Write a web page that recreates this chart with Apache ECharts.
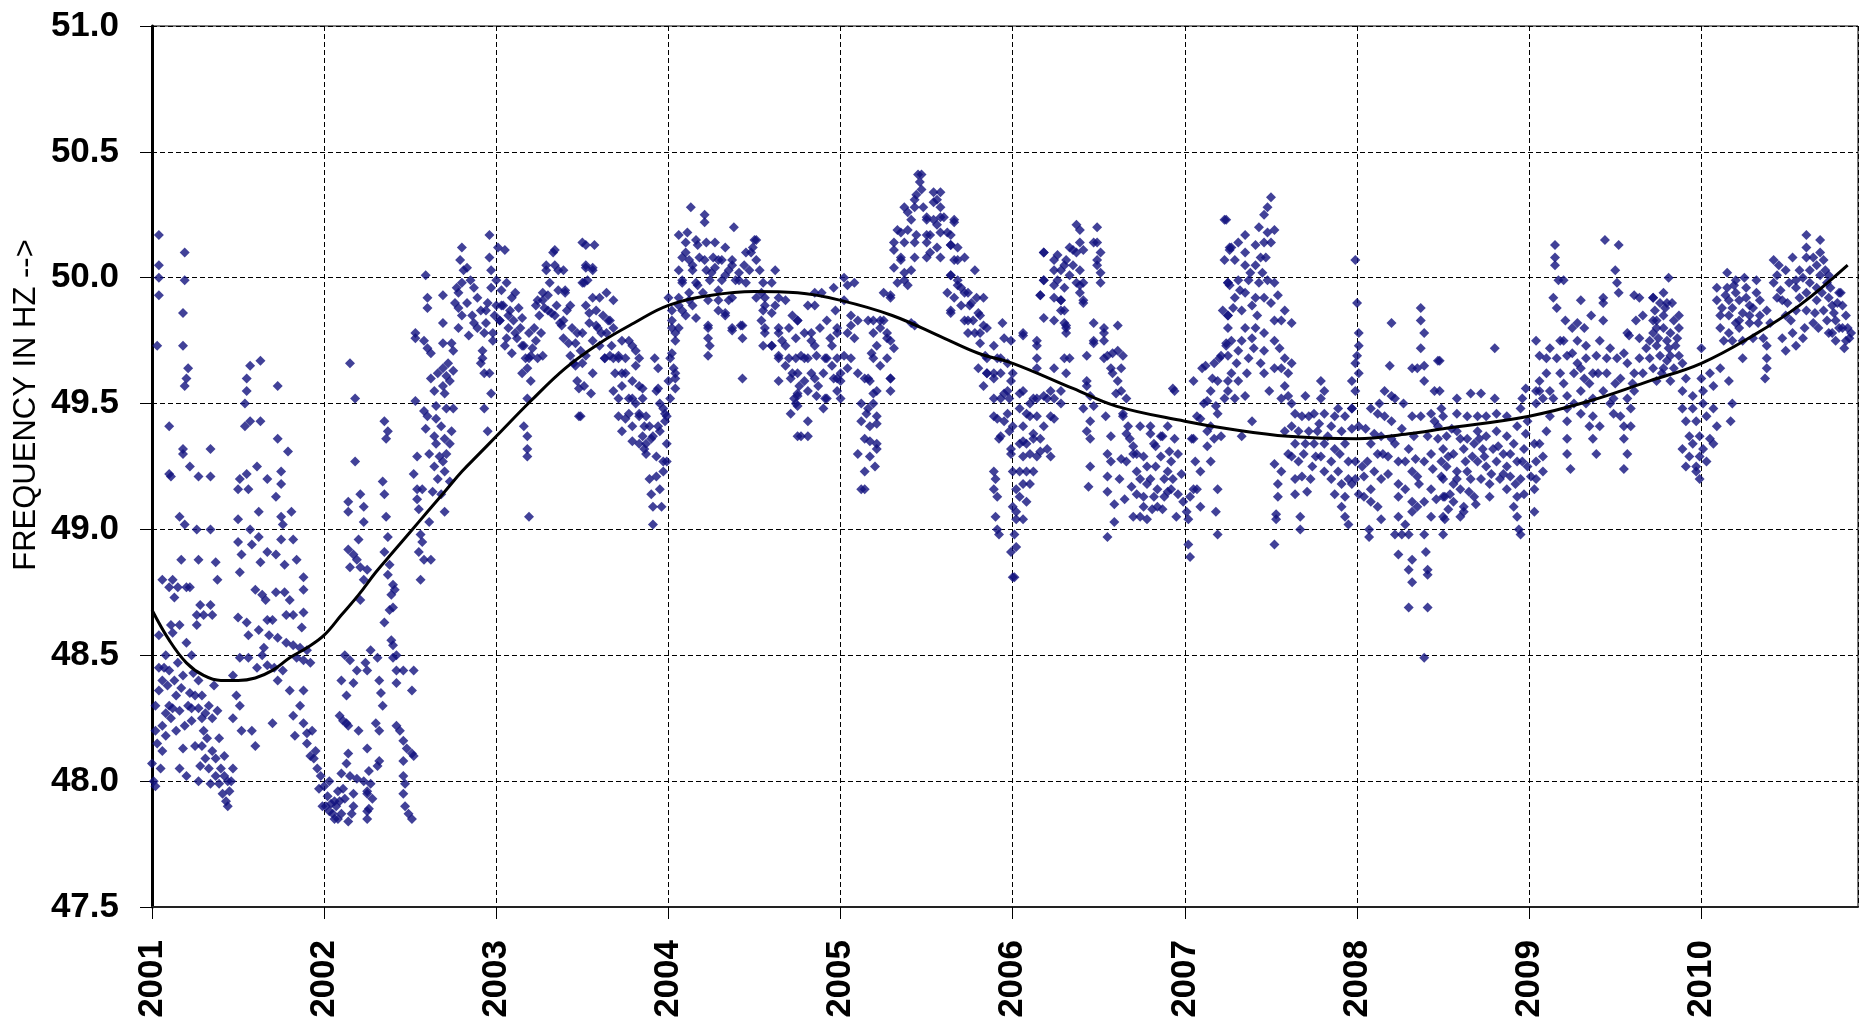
<!DOCTYPE html>
<html>
<head>
<meta charset="utf-8">
<script src="https://cdn.jsdelivr.net/npm/echarts@6/dist/echarts.min.js"></script>
<style>
  html, body { margin: 0; padding: 0; background: #fff; overflow: hidden; }
  #chart { width: 1864px; height: 1026px; }
</style>
</head>
<body>
<div id="chart"></div>
<script>
// daily frequency readings (year, Hz), grouped by year
const freq2001 = [
  [2001.04,50.17],[2001.04,50.05],[2001.04,50.0],[2001.04,49.93],[2001.03,49.73],
  [2001.19,50.1],[2001.19,49.99],[2001.18,49.86],[2001.18,49.73],[2001.21,49.64],[2001.2,49.6],[2001.19,49.57],
  [2001.1,49.41],[2001.18,49.32],[2001.18,49.3],[2001.34,49.32],[2001.22,49.25],[2001.1,49.22],[2001.11,49.21],[2001.27,49.21],[2001.34,49.21],
  [2001.16,49.05],[2001.19,49.02],[2001.26,49.0],[2001.34,49.0],[2001.27,48.88],[2001.17,48.88],[2001.37,48.87],
  [2001.06,48.8],[2001.12,48.8],[2001.15,48.77],[2001.1,48.77],[2001.13,48.73],[2001.2,48.77],[2001.22,48.77],[2001.38,48.8],
  [2001.28,48.7],[2001.34,48.7],[2001.26,48.66],[2001.3,48.66],[2001.35,48.66],[2001.11,48.62],[2001.16,48.62],[2001.26,48.62],[2001.12,48.59],[2001.04,48.58],
  [2001.01,48.0],[2001.02,47.98],[2001.0,48.07],[2001.06,48.12],[2001.06,48.22],[2001.08,48.27],[2001.1,48.3],[2001.12,48.29],[2001.14,48.34],[2001.18,48.13],
  [2001.06,48.4],[2001.1,48.44],[2001.18,48.42],[2001.23,48.5],[2001.22,48.35],[2001.25,48.34],[2001.29,48.34],[2001.23,48.29],[2001.27,48.29],[2001.29,48.25],
  [2001.23,48.24],[2001.25,48.14],[2001.29,48.14],[2001.31,48.09],[2001.33,48.05],[2001.37,48.02],[2001.39,47.99],[2001.41,47.95],[2001.43,47.92],[2001.44,47.9],
  [2001.34,47.99],[2001.37,48.09],[2001.47,48.05],[2001.46,48.0],[2001.39,48.17],[2001.03,48.15],[2001.05,48.05],[2001.08,48.18],[2001.14,48.2],[2001.16,48.05],
  [2001.2,48.02],[2001.27,48.0],[2001.35,48.12],[2001.42,48.1],[2001.3,48.2],[2001.33,48.3],[2001.36,48.38],[2001.15,48.47],[2001.08,48.5],[2001.2,48.55],
  [2001.02,48.3],[2001.04,48.45],
  [2001.02,48.2],[2001.04,48.36],[2001.07,48.45],[2001.09,48.38],[2001.11,48.25],[2001.13,48.4],[2001.16,48.28],[2001.17,48.37],[2001.19,48.22],[2001.21,48.3],
  [2001.24,48.43],[2001.27,48.4],[2001.28,48.06],[2001.31,48.27],[2001.32,48.17],[2001.35,48.25],[2001.38,48.28],[2001.4,48.05],[2001.42,48.02],[2001.44,48.0],
  [2001.45,47.96],
  [2001.55,49.6],[2001.55,49.55],[2001.57,49.65],[2001.63,49.67],[2001.73,49.57],[2001.54,49.5],[2001.54,49.41],[2001.57,49.43],[2001.63,49.43],[2001.73,49.36],
  [2001.79,49.31],[2001.61,49.25],[2001.55,49.22],[2001.51,49.2],[2001.5,49.16],[2001.56,49.16],[2001.67,49.2],[2001.75,49.23],[2001.75,49.18],[2001.72,49.13],
  [2001.75,49.05],[2001.81,49.07],[2001.76,49.02],[2001.62,49.07],[2001.5,49.04],[2001.57,49.0],[2001.5,48.95],[2001.52,48.9],[2001.58,48.94],[2001.62,48.97],
  [2001.63,48.87],[2001.67,48.91],[2001.72,48.9],[2001.75,48.96],[2001.82,48.96],[2001.77,48.86],[2001.84,48.88],[2001.51,48.83],[2001.88,48.81],[2001.6,48.76],
  [2001.64,48.74],[2001.66,48.72],[2001.72,48.75],[2001.77,48.75],[2001.8,48.72],[2001.88,48.76],[2001.78,48.66],[2001.82,48.66],[2001.88,48.67],[2001.5,48.65],
  [2001.55,48.63],[2001.56,48.58],[2001.62,48.6],[2001.67,48.64],[2001.7,48.64],[2001.68,48.58],[2001.73,48.57],[2001.87,48.61],[2001.78,48.55],[2001.82,48.54],
  [2001.86,48.53],[2001.9,48.52],[2001.65,48.53],[2001.64,48.5],[2001.51,48.49],[2001.56,48.49],[2001.61,48.45],[2001.67,48.46],[2001.71,48.45],[2001.73,48.4],
  [2001.76,48.44],[2001.84,48.49],[2001.88,48.48],[2001.92,48.47],[2001.47,48.42],[2001.49,48.34],[2001.51,48.3],[2001.47,48.25],[2001.52,48.2],[2001.58,48.2],
  [2001.6,48.14],[2001.7,48.23],[2001.8,48.36],[2001.88,48.36],[2001.82,48.26],[2001.88,48.23],[2001.9,48.19],[2001.83,48.18],
  [2001.9,48.15],[2001.94,48.09],[2001.96,48.05],[2001.98,48.02],[2001.95,48.12],[2001.99,47.9],
  [2001.92,48.1],[2001.97,47.97],[2001.93,48.2],[2001.86,48.3]
];
const freq2002 = [
  [2002.0,47.98],[2002.02,47.94],[2002.04,47.91],[2002.05,47.87],[2002.08,47.85],[2002.1,47.87],[2002.08,47.96],[2002.1,48.03],[2002.13,48.07],[2002.15,48.02],
  [2002.17,47.95],[2002.17,47.9],[2002.14,47.84],[2002.11,48.24],[2002.13,48.23],[2002.14,48.22],[2002.09,48.26],[2002.1,48.4],[2002.14,48.11],[2002.2,48.2],
  [2002.19,48.01],[2002.23,48.0],[2002.25,47.95],[2002.25,47.88],[2002.03,48.0],[2002.06,47.92],[2002.12,47.93],
  [2002.01,47.9],[2002.03,47.88],[2002.06,47.85],[2002.07,47.9],[2002.09,47.92],[2002.11,47.97],[2002.16,47.87],
  [2002.15,49.66],[2002.18,49.52],[2002.18,49.27],[2002.14,49.11],[2002.14,49.07],[2002.21,49.14],[2002.23,49.09],[2002.23,49.03],[2002.2,48.96],[2002.14,48.92],
  [2002.17,48.9],[2002.19,48.88],[2002.15,48.85],[2002.21,48.85],[2002.25,48.84],[2002.23,48.8],[2002.21,48.72],[2002.12,48.5],[2002.15,48.48],[2002.19,48.44],
  [2002.17,48.39],[2002.13,48.34],[2002.27,48.52],
  [2002.24,48.47],[2002.25,48.44],[2002.31,48.49],[2002.32,48.4],[2002.33,48.35],[2002.34,48.3],[2002.3,48.23],[2002.32,48.2],[2002.25,48.13],[2002.32,48.08],
  [2002.31,48.06],[2002.26,48.04],[2002.27,47.99],[2002.25,47.96],[2002.28,47.93],[2002.26,47.89],[2002.25,47.85],
  [2002.35,49.43],[2002.37,49.39],[2002.36,49.36],[2002.34,49.19],[2002.35,49.14],[2002.36,49.05],[2002.37,48.97],[2002.35,48.91],[2002.38,48.86],[2002.37,48.82],
  [2002.4,48.78],[2002.41,48.76],[2002.39,48.74],[2002.4,48.69],[2002.38,48.68],[2002.35,48.63],[2002.39,48.56],[2002.4,48.54],[2002.42,48.5],[2002.4,48.49],
  [2002.42,48.44],[2002.46,48.44],[2002.52,48.44],[2002.42,48.39],[2002.51,48.36],
  [2002.42,48.22],[2002.44,48.2],[2002.46,48.16],[2002.48,48.13],[2002.51,48.11],[2002.52,48.1],[2002.46,48.02],[2002.47,47.99],[2002.46,47.95],[2002.47,47.9],
  [2002.49,47.87],[2002.51,47.85],[2002.46,48.08],
  [2002.59,50.01],[2002.6,49.92],[2002.6,49.88],[2002.69,49.93],[2002.69,49.82],[2002.53,49.78],[2002.53,49.76],[2002.58,49.75],[2002.6,49.72],[2002.62,49.7],
  [2002.69,49.74],[2002.74,49.74],[2002.75,49.71],[2002.78,49.8],[2002.78,49.88],[2002.69,49.64],[2002.71,49.61],[2002.73,49.59],[2002.75,49.63],[2002.69,49.57],
  [2002.7,49.54],[2002.64,49.55],[2002.53,49.51],[2002.65,49.49],[2002.58,49.47],[2002.71,49.48],[2002.75,49.48],[2002.6,49.45],[2002.65,49.44],[2002.59,49.4],
  [2002.68,49.41],[2002.74,49.39],[2002.64,49.37],[2002.7,49.36],[2002.73,49.34],[2002.65,49.34],[2002.54,49.29],[2002.67,49.29],[2002.69,49.27],[2002.64,49.25],
  [2002.52,49.22],[2002.7,49.23],[2002.54,49.16],[2002.57,49.16],[2002.63,49.15],[2002.68,49.14],[2002.73,49.19],[2002.54,49.12],[2002.55,49.08],[2002.7,49.07],
  [2002.61,49.03],[2002.56,48.98],[2002.57,48.95],[2002.55,48.91],[2002.58,48.88],[2002.62,48.88],[2002.56,48.8],
  [2002.62,49.6],[2002.66,49.62],[2002.72,49.66],[2002.76,49.9],[2002.77,49.96],[2002.8,49.85],[2002.84,49.77],[2002.71,49.3],[2002.61,49.3],[2002.66,49.2],
  [2002.8,50.12],[2002.79,50.07],[2002.81,50.03],[2002.83,50.04],[2002.85,49.99],[2002.87,49.96],[2002.8,49.98],[2002.78,49.94],[2002.89,49.92],[2002.91,49.87],
  [2002.87,49.82],[2002.89,49.8],[2002.93,49.78],[2002.92,49.71],[2002.91,49.66],[2002.93,49.62],[2002.96,50.17],[2002.96,50.08],[2002.97,50.03],[2002.97,49.96],
  [2002.95,49.39],[2002.93,49.48],[2002.97,49.54],[2002.83,49.9],[2002.86,49.85],[2002.95,49.9],[2002.99,49.85],[2002.98,49.75],[2002.94,49.82],
  [2002.94,49.87],[2002.98,49.78],[2002.92,49.68],[2002.96,49.62]
];
const freq2003 = [
  [2003.01,50.12],[2003.05,50.11],[2003.0,49.99],[2003.06,49.98],[2003.11,49.94],[2003.04,49.89],[2003.0,49.89],[2003.02,49.83],[2003.08,49.87],[2003.1,49.83],
  [2003.14,49.8],[2003.06,49.76],[2003.12,49.76],[2003.16,49.73],[2003.2,49.69],[2003.24,49.68],[2003.27,49.69],[2003.18,49.64],[2003.2,49.59],[2003.22,49.8],
  [2003.24,49.91],[2003.27,49.94],[2003.31,49.98],[2003.33,50.1],[2003.29,50.03],[2003.34,50.05],[2003.39,50.03],[2003.4,49.94],[2003.43,49.89],[2003.35,49.89],
  [2003.39,49.83],[2003.47,49.78],[2003.49,49.71],[2003.45,49.66],[2003.47,49.59],[2003.48,49.45],[2003.18,49.52],[2003.16,49.41],[2003.18,49.37],[2003.18,49.32],
  [2003.18,49.29],[2003.19,49.05],[2003.39,49.76],[2003.43,49.69],[2003.5,50.14],[2003.51,49.98],
  [2003.03,49.95],[2003.09,49.92],[2003.13,49.88],[2003.15,49.84],[2003.19,49.78],[2003.23,49.75],[2003.25,49.85],[2003.28,49.88],[2003.3,49.93],[2003.32,49.86],
  [2003.36,49.95],[2003.37,49.82],[2003.41,49.87],[2003.44,49.8],[2003.46,49.74],[2003.26,49.78],[2003.21,49.72],[2003.17,49.68],[2003.07,49.8],
  [2003.03,49.89],[2003.07,49.85],[2003.11,49.78],[2003.15,49.73],[2003.19,49.68],[2003.15,49.62],[2003.23,49.89],[2003.27,49.91],[2003.3,49.87],[2003.34,49.85],
  [2003.38,49.81],[2003.29,50.05],[2003.34,50.11],[2003.36,50.03],[2003.4,49.95],[2003.42,49.74],[2003.46,49.65],[2003.48,49.56],[2003.05,49.73],[2003.09,49.7],
  [2003.02,49.83],
  [2003.52,50.13],[2003.57,50.13],[2003.52,50.04],[2003.56,50.04],[2003.53,49.99],[2003.5,49.98],[2003.56,49.92],[2003.6,49.92],[2003.64,49.94],[2003.68,49.91],
  [2003.52,49.89],[2003.58,49.87],[2003.62,49.85],[2003.66,49.83],[2003.54,49.82],[2003.59,49.8],[2003.5,49.78],[2003.64,49.78],[2003.68,49.8],[2003.56,49.75],
  [2003.6,49.73],[2003.52,49.69],[2003.66,49.69],[2003.5,49.66],[2003.56,49.62],[2003.51,49.57],[2003.55,49.54],[2003.49,49.45],[2003.63,49.68],[2003.68,49.68],
  [2003.52,50.05],[2003.56,50.03],[2003.54,49.86],[2003.58,49.81],[2003.61,49.78],[2003.65,49.83],[2003.67,49.73],[2003.63,49.68],[2003.71,49.68],[2003.75,49.62],
  [2003.73,49.57],[2003.79,49.52],[2003.83,49.46],[2003.86,49.41],[2003.9,49.36],[2003.94,49.41],[2003.98,49.46],[2003.81,49.65],[2003.85,49.56],[2003.92,49.68],
  [2003.94,49.56],[2003.75,49.44],[2003.79,49.35],[2003.86,49.32],
  [2003.73,49.75],[2003.77,49.75],[2003.79,49.73],[2003.71,49.69],[2003.75,49.68],[2003.81,49.71],[2003.83,49.68],[2003.69,49.62],[2003.73,49.62],[2003.79,49.59],
  [2003.83,49.57],[2003.68,49.55],[2003.71,49.52],[2003.77,49.52],[2003.81,49.5],[2003.85,49.52],[2003.71,49.45],[2003.77,49.46],[2003.83,49.45],[2003.87,49.45],
  [2003.73,49.39],[2003.79,49.41],[2003.85,49.37],[2003.89,49.41],[2003.83,49.34],[2003.87,49.34],[2003.91,49.37],[2003.95,49.39],[2003.87,49.3],[2003.93,49.29],
  [2003.97,49.27],[2003.98,49.43],[2003.97,49.48],[2003.95,49.5],[2003.93,49.55],[2003.94,49.64],[2003.89,49.2],[2003.93,49.21],[2003.97,49.23],[2003.9,49.14],
  [2003.95,49.16],[2003.91,49.09],[2003.96,49.09],[2003.91,49.02],[2003.99,49.34],[2003.99,49.45],[2003.99,49.27]
];
const freq2004 = [
  [2004.13,50.28],[2004.21,50.25],[2004.21,50.22],[2004.11,50.18],[2004.38,50.2],[2004.51,50.15],[2004.1,50.14],[2004.16,50.15],[2004.22,50.14],[2004.27,50.14],
  [2004.33,50.12],[2004.08,50.08],[2004.12,50.07],[2004.18,50.08],[2004.26,50.08],[2004.31,50.07],[2004.37,50.07],[2004.45,50.1],[2004.49,50.12],[2004.51,50.07],
  [2004.06,50.03],[2004.14,50.03],[2004.22,50.03],[2004.27,50.04],[2004.35,50.03],[2004.41,50.02],[2004.47,50.03],[2004.53,50.03],[2004.62,50.03],[2004.08,49.98],
  [2004.16,49.98],[2004.24,49.99],[2004.31,49.99],[2004.39,49.99],[2004.45,49.98],[2004.55,49.98],[2004.6,49.98],[2004.0,49.92],[2004.06,49.92],[2004.12,49.91],
  [2004.2,49.94],[2004.29,49.91],[2004.37,49.92],[2004.51,49.92],[2004.56,49.92],[2004.64,49.92],[2004.02,49.87],[2004.08,49.87],[2004.16,49.84],[2004.29,49.87],
  [2004.33,49.85],[2004.55,49.87],[2004.62,49.89],[2004.68,49.91],[2004.72,49.85],[2004.02,49.8],[2004.06,49.8],[2004.23,49.8],[2004.23,49.76],[2004.37,49.8],
  [2004.43,49.81],[2004.43,49.76],[2004.56,49.8],[2004.64,49.8],[2004.7,49.8],[2004.04,49.75],[2004.24,49.73],[2004.55,49.73],[2004.6,49.73],[2004.66,49.75],
  [2004.74,49.76],[2004.01,49.68],[2004.23,49.69],[2004.64,49.69],[2004.7,49.68],[2004.74,49.68],[2004.03,49.64],[2004.04,49.6],[2004.04,49.56],[2004.43,49.6],
  [2004.64,49.59],[2004.72,49.62],[2004.76,49.57],[2004.74,49.5],[2004.75,49.37],[2004.0,49.59],[2004.01,49.52],
  [2004.06,50.17],[2004.1,50.1],[2004.14,50.05],[2004.17,50.13],[2004.21,50.07],[2004.25,50.02],[2004.29,50.07],[2004.33,50.01],[2004.37,50.05],[2004.41,49.99],
  [2004.44,50.05],[2004.48,50.1],[2004.5,50.15],[2004.08,49.99],[2004.12,49.94],[2004.17,49.97],[2004.23,49.91],[2004.29,49.95],[2004.35,49.91],[2004.33,49.86],
  [2004.06,49.89],[2004.02,49.83],[2004.04,49.78],[2004.02,49.7],[2004.04,49.62],[2004.23,49.81],[2004.37,49.79],[2004.42,49.81],[2004.1,49.85],[2004.14,49.89],
  [2004.54,49.94],[2004.56,49.89],[2004.54,49.83],[2004.56,49.78],[2004.6,49.86],[2004.6,49.73],[2004.64,49.68],[2004.64,49.78],[2004.68,49.73],[2004.68,49.65],
  [2004.71,49.6],[2004.75,49.54],[2004.75,49.49],[2004.79,49.68],[2004.83,49.62],[2004.87,49.57],[2004.91,49.52],[2004.91,49.68],[2004.95,49.73],[2004.98,49.78],
  [2004.83,49.78],[2004.75,49.83],[2004.85,49.73],[2004.95,49.65],[2004.98,49.6],[2004.71,49.46],[2004.73,49.52],[2004.89,49.94],[2004.81,49.89],
  [2004.75,49.83],[2004.79,49.78],[2004.83,49.75],[2004.85,49.94],[2004.85,49.89],[2004.88,49.8],[2004.92,49.83],[2004.94,49.76],[2004.96,49.96],[2004.97,49.87],
  [2004.98,49.8],[2004.77,49.69],[2004.81,49.68],[2004.86,49.69],[2004.92,49.68],[2004.98,49.68],[2004.75,49.62],[2004.79,49.59],[2004.85,49.6],[2004.9,49.62],
  [2004.96,49.6],[2004.75,49.53],[2004.81,49.55],[2004.86,49.53],[2004.92,49.52],[2004.98,49.55],[2004.9,49.48],[2004.81,49.43],[2004.77,49.37],[2004.81,49.37]
];
const freq2005 = [
  [2005.0,49.62],[2005.0,49.52],[2005.02,50.0],[2005.08,49.98],[2005.02,49.91],[2005.06,49.85],[2005.1,49.83],[2005.04,49.78],[2005.08,49.76],[2005.02,49.69],
  [2005.06,49.68],[2005.04,49.64],[2005.0,49.59],[2005.1,49.62],[2005.14,49.6],[2005.17,49.59],[2005.19,49.68],[2005.21,49.73],[2005.23,49.8],[2005.19,49.83],
  [2005.25,49.83],[2005.27,49.78],[2005.29,49.75],[2005.27,49.68],[2005.29,49.6],[2005.29,49.55],[2005.21,49.55],[2005.19,49.5],[2005.12,49.5],[2005.15,49.46],
  [2005.21,49.45],[2005.12,49.43],[2005.17,49.41],[2005.14,49.36],[2005.21,49.34],[2005.1,49.3],[2005.17,49.29],[2005.14,49.23],[2005.2,49.25],[2005.12,49.16],
  [2005.14,49.16],[2005.04,49.97],[2005.06,49.81],
  [2005.16,49.83],[2005.19,49.78],[2005.23,49.83],[2005.27,49.76],[2005.31,49.72],[2005.18,49.7],[2005.23,49.65],[2005.29,49.6],[2005.16,49.6],[2005.19,49.54],
  [2005.16,49.48],[2005.21,49.42],[2005.17,49.35],[2005.21,49.32],
  [2005.45,50.41],[2005.46,50.38],[2005.44,50.33],[2005.54,50.34],[2005.56,50.31],[2005.37,50.28],[2005.43,50.28],[2005.48,50.28],[2005.58,50.28],[2005.41,50.23],
  [2005.5,50.23],[2005.54,50.23],[2005.6,50.24],[2005.66,50.23],[2005.33,50.19],[2005.39,50.19],[2005.44,50.17],[2005.52,50.17],[2005.58,50.18],[2005.64,50.17],
  [2005.31,50.14],[2005.37,50.14],[2005.43,50.14],[2005.5,50.14],[2005.56,50.12],[2005.64,50.13],[2005.68,50.12],[2005.72,50.08],[2005.35,50.08],[2005.43,50.08],
  [2005.5,50.08],[2005.58,50.08],[2005.66,50.07],[2005.31,50.04],[2005.41,50.03],[2005.37,49.99],[2005.33,49.98],[2005.25,49.94],[2005.29,49.92],[2005.41,49.82],
  [2005.31,50.11],[2005.35,50.18],[2005.39,50.26],[2005.43,50.31],[2005.47,50.41],[2005.47,50.35],[2005.5,50.24],[2005.54,50.3],[2005.58,50.34],[2005.58,50.24],
  [2005.62,50.18],[2005.64,50.13],[2005.68,50.07],[2005.66,50.22],[2005.35,50.07],[2005.37,50.02],[2005.39,49.97],[2005.29,49.93],[2005.5,50.17],[2005.56,50.21],
  [2005.52,50.1],[2005.64,50.01],[2005.68,49.97],[2005.72,49.94],[2005.76,49.9],[2005.8,49.86],[2005.83,49.81],[2005.74,49.83],[2005.78,49.78],[2005.81,49.74],
  [2005.85,49.68],[2005.89,49.62],[2005.93,49.68],[2005.85,49.62],[2005.95,49.54],[2005.97,49.46],[2005.91,49.44],[2005.93,49.37],[2005.64,49.86],[2005.43,49.81],
  [2005.78,50.03],[2005.64,50.01],[2005.68,49.99],[2005.7,49.96],[2005.62,49.94],[2005.66,49.92],[2005.74,49.94],[2005.64,49.87],[2005.7,49.89],[2005.75,49.89],
  [2005.79,49.92],[2005.83,49.92],[2005.72,49.83],[2005.77,49.83],[2005.81,49.85],[2005.74,49.78],[2005.81,49.78],[2005.85,49.8],[2005.94,49.82],[2005.95,49.76],
  [2005.89,49.73],[2005.84,49.69],[2005.91,49.68],[2005.8,49.64],[2005.85,49.62],[2005.89,49.6],[2005.93,49.62],[2005.97,49.66],[2005.83,49.57],[2005.89,49.52],
  [2005.93,49.52],[2005.97,49.55],[2005.99,49.59],[2005.89,49.45],[2005.95,49.43],[2005.98,49.39],[2005.92,49.36],[2005.99,49.32],[2005.89,49.23],[2005.9,49.2],
  [2005.89,49.16],[2005.91,49.13],[2005.9,49.05],[2005.91,49.0],[2005.92,48.98],[2005.99,48.91],[2005.99,49.75],[2005.98,49.52],[2005.99,49.3]
];
const freq2006 = [
  [2006.0,48.81],[2006.0,49.62],[2006.0,49.41],[2006.0,49.23],[2006.02,49.16],[2006.0,49.09],[2006.02,49.04],[2006.01,48.98],[2006.02,48.93],[2006.01,48.81],
  [2006.06,49.78],[2006.06,49.55],[2006.1,49.5],[2006.04,49.48],[2006.14,49.52],[2006.18,49.53],[2006.22,49.55],[2006.24,49.52],[2006.28,49.5],[2006.06,49.41],
  [2006.1,49.45],[2006.14,49.45],[2006.18,49.41],[2006.22,49.45],[2006.04,49.34],[2006.08,49.34],[2006.12,49.36],[2006.16,49.36],[2006.2,49.32],[2006.22,49.29],
  [2006.06,49.29],[2006.1,49.3],[2006.14,49.29],[2006.04,49.23],[2006.08,49.23],[2006.12,49.23],[2006.06,49.18],[2006.1,49.18],[2006.04,49.13],[2006.08,49.11],
  [2006.02,49.07],[2006.06,49.04],[2006.14,49.73],[2006.14,49.75],[2006.14,49.68],[2006.14,49.64],[2006.24,49.64],[2006.28,49.55],[2006.3,49.68],[2006.31,49.62],
  [2006.04,49.54],[2006.08,49.46],[2006.12,49.38],[2006.16,49.31],[2006.2,49.52],[2006.24,49.44],[2006.06,49.35],[2006.12,49.52],
  [2006.37,50.21],[2006.39,50.19],[2006.49,50.2],[2006.18,50.1],[2006.26,50.09],[2006.33,50.12],[2006.37,50.1],[2006.41,50.11],[2006.49,50.14],[2006.51,50.1],
  [2006.24,50.03],[2006.3,50.05],[2006.35,50.05],[2006.39,50.03],[2006.49,50.05],[2006.18,49.99],[2006.26,49.99],[2006.3,49.96],[2006.37,49.98],[2006.41,49.98],
  [2006.51,49.98],[2006.16,49.93],[2006.24,49.92],[2006.28,49.91],[2006.39,49.94],[2006.41,49.9],[2006.18,49.84],[2006.24,49.83],[2006.28,49.87],[2006.31,49.8],
  [2006.3,49.82],[2006.31,49.78],[2006.06,49.77],[2006.47,49.82],[2006.53,49.8],[2006.61,49.81],[2006.47,49.75],[2006.53,49.75],[2006.43,49.69],[2006.55,49.69],
  [2006.61,49.71],[2006.64,49.69],[2006.57,49.64],[2006.63,49.64],[2006.33,49.68],
  [2006.18,50.1],[2006.24,50.07],[2006.28,50.03],[2006.31,50.07],[2006.35,50.11],[2006.39,50.14],[2006.47,50.14],[2006.49,50.07],[2006.51,50.02],[2006.24,49.97],
  [2006.28,49.91],[2006.3,49.87],[2006.31,49.81],[2006.18,49.99],[2006.16,49.93],[2006.33,50.01],[2006.39,49.97],[2006.41,49.91],
  [2006.43,49.59],[2006.45,49.53],[2006.41,49.48],[2006.45,49.43],[2006.43,49.39],[2006.45,49.36],[2006.45,49.25],[2006.44,49.17],[2006.54,49.45],[2006.57,49.37],
  [2006.55,49.3],[2006.57,49.27],[2006.55,49.21],[2006.55,49.15],[2006.59,49.1],[2006.59,49.03],[2006.55,48.97],[2006.61,49.59],[2006.63,49.55],[2006.66,49.52],
  [2006.64,49.45],[2006.67,49.41],[2006.68,49.36],[2006.7,49.3],[2006.66,49.27],[2006.72,49.23],[2006.76,49.29],[2006.78,49.25],[2006.74,49.2],[2006.8,49.2],
  [2006.72,49.14],[2006.76,49.13],[2006.76,49.09],[2006.82,49.13],[2006.84,49.16],[2006.88,49.2],[2006.9,49.23],[2006.92,49.27],[2006.86,49.29],[2006.82,49.34],
  [2006.8,49.41],[2006.86,49.37],[2006.9,49.41],[2006.94,49.36],[2006.96,49.3],[2006.92,49.16],[2006.88,49.13],[2006.96,49.14],[2006.99,49.11],[2006.94,49.55],
  [2006.78,49.04],[2006.84,49.09],
  [2006.43,49.57],[2006.47,49.49],[2006.53,49.68],[2006.58,49.62],[2006.6,49.54],[2006.64,49.46],[2006.66,49.38],[2006.7,49.33],[2006.74,49.41],[2006.8,49.38],
  [2006.83,49.33],[2006.87,49.37],[2006.91,49.31],[2006.58,49.7],[2006.53,49.78],[2006.47,49.74],[2006.93,49.56],
  [2006.62,49.2],[2006.65,49.12],[2006.69,49.17],[2006.72,49.3],[2006.74,49.05],[2006.78,49.18],[2006.81,49.08],[2006.83,49.25],[2006.87,49.08],[2006.9,49.15],
  [2006.93,49.2],[2006.95,49.05],[2006.98,49.22],[2006.7,49.05],[2006.63,49.28]
];
const freq2007 = [
  [2007.03,49.13],[2007.07,49.16],[2007.01,49.07],[2007.09,49.09],[2007.02,49.04],[2007.02,48.94],[2007.03,48.89],[2007.05,49.16],[2007.06,49.27],[2007.09,49.23],
  [2007.04,49.36],[2007.07,49.45],[2007.11,49.5],[2007.15,49.55],[2007.19,49.46],[2007.13,49.39],[2007.17,49.36],[2007.21,49.37],[2007.15,49.27],[2007.19,49.16],
  [2007.18,49.07],[2007.19,48.98],[2007.05,49.59],[2007.1,49.64],[2007.17,49.66],[2007.21,49.69],[2007.24,49.73],[2007.25,49.8],[2007.25,49.85],[2007.23,50.07],
  [2007.26,50.12],[2007.24,50.23],[2007.25,49.98],[2007.19,49.59],[2007.23,49.52],[2007.25,49.59],
  [2007.05,49.36],[2007.09,49.44],[2007.13,49.51],[2007.16,49.6],[2007.2,49.68],[2007.24,49.74],[2007.22,49.87],[2007.26,49.97],[2007.26,50.11],[2007.12,49.65],
  [2007.18,49.49],[2007.15,49.41],[2007.13,49.33],
  [2007.5,50.32],[2007.48,50.28],[2007.46,50.25],[2007.23,50.23],[2007.35,50.17],[2007.43,50.2],[2007.48,50.18],[2007.52,50.19],[2007.27,50.12],[2007.31,50.14],
  [2007.35,50.1],[2007.41,50.13],[2007.46,50.14],[2007.5,50.14],[2007.29,50.07],[2007.35,50.05],[2007.41,50.05],[2007.44,50.08],[2007.25,49.98],[2007.31,49.99],
  [2007.37,49.99],[2007.43,49.98],[2007.48,49.99],[2007.52,49.98],[2007.29,49.92],[2007.35,49.94],[2007.41,49.92],[2007.46,49.92],[2007.25,49.85],[2007.33,49.87],
  [2007.39,49.89],[2007.58,49.87],[2007.52,49.83],[2007.56,49.83],[2007.62,49.82],[2007.35,49.8],[2007.41,49.8],[2007.46,49.78],[2007.27,49.75],[2007.33,49.75],
  [2007.39,49.76],[2007.25,49.69],[2007.31,49.71],[2007.37,49.68],[2007.46,49.71],[2007.52,49.75],[2007.58,49.68],[2007.62,49.66],[2007.27,49.62],[2007.31,49.59],
  [2007.25,49.55],[2007.35,49.53],[2007.29,49.52],[2007.52,49.64],[2007.56,49.64],[2007.6,49.62],[2007.46,49.62],[2007.58,49.57],[2007.56,49.52],[2007.6,49.53],
  [2007.62,49.5],[2007.39,49.43],[2007.33,49.37],
  [2007.28,49.88],[2007.32,49.95],[2007.38,50.02],[2007.42,49.85],[2007.45,50.02],[2007.47,50.08],[2007.4,49.72],[2007.44,49.66],[2007.5,49.9],[2007.54,49.93],
  [2007.3,49.66],[2007.36,49.62],[2007.49,49.55],[2007.55,49.72],
  [2007.7,49.53],[2007.79,49.59],[2007.81,49.55],[2007.79,49.52],[2007.64,49.46],[2007.68,49.45],[2007.72,49.45],[2007.75,49.46],[2007.81,49.46],[2007.89,49.48],
  [2007.93,49.45],[2007.97,49.48],[2007.62,49.41],[2007.66,49.39],[2007.72,49.39],[2007.77,49.39],[2007.85,49.41],[2007.91,49.39],[2007.58,49.39],[2007.64,49.34],
  [2007.7,49.34],[2007.75,49.34],[2007.81,49.34],[2007.87,49.32],[2007.93,49.34],[2007.52,49.26],[2007.56,49.23],[2007.62,49.29],[2007.66,49.27],[2007.74,49.25],
  [2007.79,49.29],[2007.85,49.27],[2007.89,49.23],[2007.95,49.27],[2007.54,49.18],[2007.64,49.2],[2007.68,49.21],[2007.81,49.23],[2007.85,49.2],[2007.91,49.18],
  [2007.95,49.2],[2007.54,49.13],[2007.64,49.14],[2007.87,49.14],[2007.93,49.13],[2007.97,49.18],[2007.53,49.06],[2007.53,49.04],[2007.67,49.05],[2007.67,49.0],
  [2007.91,49.09],[2007.93,49.05],[2007.95,49.02],[2007.52,48.94],[2007.99,49.27],[2007.99,49.2],
  [2007.69,49.3],[2007.73,49.2],[2007.76,49.29],[2007.78,49.42],[2007.83,49.37],[2007.87,49.45],[2007.9,49.3],[2007.97,49.4],[2007.6,49.3],[2007.71,49.15],
  [2007.99,50.07],[2007.99,49.66],[2007.97,49.59],[2007.99,49.55],[2007.97,49.48]
];
const freq2008 = [
  [2008.0,49.9],[2008.01,49.78],[2008.01,49.73],[2008.0,49.69],[2008.01,49.62],[2008.01,49.41],
  [2008.2,49.82],[2008.19,49.65],[2008.37,49.88],[2008.37,49.83],[2008.39,49.78],[2008.37,49.72],[2008.35,49.64],[2008.39,49.65],[2008.39,49.59],[2008.47,49.67],
  [2008.45,49.55],[2008.32,49.64],[2008.16,49.55],[2008.2,49.53],[2008.22,49.52],[2008.08,49.48],[2008.12,49.46],[2008.16,49.45],[2008.2,49.43],[2008.14,49.37],
  [2008.2,49.36],[2008.08,49.34],[2008.12,49.3],[2008.18,49.29],[2008.24,49.27],[2008.06,49.27],[2008.1,49.23],[2008.14,49.2],[2008.04,49.21],[2008.08,49.16],
  [2008.04,49.13],[2008.08,49.11],[2008.12,49.09],[2008.01,49.14],[2008.03,49.25],[2008.28,49.27],[2008.32,49.23],[2008.24,49.18],[2008.28,49.16],[2008.24,49.13],
  [2008.32,49.11],[2008.35,49.09],[2008.24,49.05],[2008.28,49.02],[2008.32,49.07],[2008.22,48.98],[2008.26,48.98],[2008.3,48.98],[2008.14,49.04],[2008.07,49.0],
  [2008.07,48.97],[2008.24,48.9],[2008.32,48.88],[2008.3,48.84],[2008.32,48.79],[2008.3,48.69],[2008.41,48.69],[2008.41,48.84],[2008.41,48.82],[2008.4,48.91],
  [2008.39,48.98],[2008.43,49.05],[2008.39,49.11],[2008.43,49.16],[2008.35,49.21],[2008.39,49.27],[2008.43,49.3],[2008.47,49.36],[2008.41,49.37],[2008.45,49.43],
  [2008.43,49.46],[2008.37,49.45],[2008.32,49.45],[2008.33,49.37],[2008.49,49.27],[2008.39,48.49],[2008.49,49.21],[2008.51,49.13],[2008.51,49.04],[2008.47,49.41],
  [2008.49,49.48],
  [2008.05,49.4],[2008.1,49.38],[2008.15,49.3],[2008.18,49.22],[2008.22,49.34],[2008.26,49.4],[2008.3,49.32],[2008.34,49.28],[2008.36,49.18],[2008.44,49.24],
  [2008.46,49.12],[2008.27,49.5],[2008.13,49.5],
  [2008.48,49.67],[2008.48,49.55],[2008.58,49.52],[2008.66,49.54],[2008.72,49.54],[2008.8,49.72],[2008.8,49.52],[2008.96,49.52],[2008.98,49.56],[2008.5,49.45],
  [2008.58,49.46],[2008.64,49.45],[2008.7,49.45],[2008.75,49.45],[2008.81,49.46],[2008.87,49.45],[2008.95,49.48],[2008.52,49.37],[2008.58,49.39],[2008.64,49.36],
  [2008.7,49.39],[2008.75,49.37],[2008.81,49.39],[2008.87,49.37],[2008.93,49.41],[2008.99,49.43],[2008.5,49.32],[2008.56,49.3],[2008.62,49.32],[2008.68,49.34],
  [2008.73,49.32],[2008.79,49.32],[2008.85,49.3],[2008.91,49.34],[2008.97,49.32],[2008.52,49.25],[2008.58,49.23],[2008.64,49.23],[2008.7,49.27],[2008.75,49.25],
  [2008.81,49.27],[2008.87,49.25],[2008.93,49.27],[2008.99,49.25],[2008.5,49.2],[2008.56,49.18],[2008.6,49.16],[2008.66,49.2],[2008.72,49.2],[2008.77,49.18],
  [2008.83,49.2],[2008.89,49.21],[2008.95,49.2],[2008.5,49.13],[2008.56,49.11],[2008.62,49.09],[2008.68,49.13],[2008.77,49.13],[2008.87,49.16],[2008.93,49.13],
  [2008.97,49.14],[2008.5,49.05],[2008.62,49.07],[2008.93,49.05],[2008.5,48.98],[2008.94,49.0],[2008.95,48.98],[2008.91,49.09],
  [2008.53,49.29],[2008.55,49.4],[2008.6,49.36],[2008.63,49.27],[2008.67,49.29],[2008.71,49.36],[2008.74,49.29],[2008.78,49.22],[2008.82,49.33],[2008.85,49.22],
  [2008.89,49.3],[2008.92,49.18],[2008.96,49.27],[2008.98,49.38],[2008.54,49.14],[2008.58,49.2],[2008.65,49.15],[2008.69,49.1],[2008.53,49.08],[2008.6,49.05]
];
const freq2009 = [
  [2009.03,49.34],[2009.04,49.27],[2009.01,49.21],[2009.04,49.2],[2009.03,49.16],[2009.03,49.07],
  [2009.04,49.75],[2009.06,49.69],[2009.1,49.68],[2009.06,49.59],[2009.04,49.55],[2009.04,49.5],[2009.08,49.52],[2009.12,49.55],[2009.1,49.39],[2009.06,49.34],
  [2009.08,49.29],[2009.12,49.45],[2009.15,50.13],[2009.15,50.08],[2009.15,50.05],[2009.17,49.99],[2009.2,49.99],[2009.14,49.92],[2009.16,49.88],[2009.21,49.83],
  [2009.3,49.91],[2009.28,49.82],[2009.32,49.8],[2009.2,49.75],[2009.28,49.75],[2009.33,49.73],[2009.41,49.75],[2009.43,49.92],[2009.43,49.9],[2009.43,49.83],
  [2009.5,50.03],[2009.51,49.98],[2009.52,49.94],[2009.44,50.15],[2009.52,50.13],[2009.61,49.93],[2009.64,49.92],[2009.72,49.92],[2009.62,49.83],[2009.66,49.85],
  [2009.72,49.83],[2009.57,49.78],[2009.64,49.76],[2009.7,49.75],[2009.74,49.8],[2009.16,49.68],[2009.22,49.69],[2009.28,49.66],[2009.33,49.68],[2009.39,49.69],
  [2009.45,49.68],[2009.51,49.68],[2009.57,49.66],[2009.64,49.68],[2009.7,49.68],[2009.1,49.62],[2009.18,49.62],[2009.26,49.62],[2009.32,49.6],[2009.37,49.62],
  [2009.45,49.62],[2009.53,49.6],[2009.61,49.62],[2009.06,49.55],[2009.14,49.52],[2009.22,49.53],[2009.3,49.55],[2009.37,49.52],[2009.43,49.55],[2009.49,49.52],
  [2009.57,49.52],[2009.61,49.55],[2009.22,49.48],[2009.3,49.46],[2009.37,49.45],[2009.49,49.46],[2009.59,49.48],[2009.22,49.43],[2009.35,49.41],[2009.41,49.41],
  [2009.55,49.41],[2009.59,49.41],[2009.22,49.36],[2009.37,49.36],[2009.55,49.36],[2009.22,49.3],[2009.39,49.3],[2009.57,49.3],[2009.24,49.24],[2009.55,49.24],
  [2009.08,49.23],
  [2009.12,49.72],[2009.18,49.75],[2009.25,49.7],[2009.3,49.64],[2009.35,49.58],[2009.4,49.62],[2009.47,49.72],[2009.5,49.58],[2009.55,49.7],[2009.6,49.58],
  [2009.66,49.62],[2009.68,49.72],[2009.2,49.58],[2009.26,49.5],[2009.33,49.5],[2009.47,49.5],[2009.53,49.45],[2009.58,49.77],[2009.36,49.85],[2009.25,49.8],
  [2009.81,50.0],[2009.72,49.92],[2009.78,49.94],[2009.8,49.9],[2009.74,49.83],[2009.78,49.85],[2009.84,49.83],[2009.87,49.85],[2009.72,49.78],[2009.78,49.8],
  [2009.82,49.78],[2009.87,49.8],[2009.74,49.73],[2009.8,49.75],[2009.85,49.73],[2009.76,49.69],[2009.82,49.69],[2009.87,49.69],[2009.72,49.64],[2009.78,49.64],
  [2009.84,49.64],[2009.89,49.66],[2009.74,49.59],[2009.82,49.59],
  [2009.73,49.87],[2009.76,49.9],[2009.79,49.88],[2009.83,49.9],[2009.75,49.76],[2009.81,49.72],[2009.86,49.76],[2009.77,49.62],[2009.8,49.67],
  [2009.91,49.6],[2009.89,49.55],[2009.95,49.53],[2009.89,49.48],[2009.95,49.48],[2009.91,49.43],[2009.97,49.43],[2009.93,49.37],[2009.99,49.37],[2009.89,49.32],
  [2009.95,49.34],[2009.93,49.29],[2009.99,49.29],[2009.91,49.25],[2009.97,49.25],[2009.99,49.2],[2009.97,49.23]
];
const freq2010 = [
  [2010.0,49.72],[2010.0,49.6],[2010.05,49.62],[2010.11,49.64],[2010.16,49.59],[2010.01,49.55],[2010.07,49.57],[2010.18,49.5],[2010.01,49.5],[2010.07,49.48],
  [2010.03,49.45],[2010.09,49.41],[2010.17,49.43],[2010.05,49.36],[2010.01,49.32],[2010.07,49.34],[2010.03,49.27],
  [2010.15,50.02],[2010.2,49.99],[2010.32,49.99],[2010.09,49.96],[2010.15,49.96],[2010.2,49.94],[2010.26,49.96],[2010.32,49.94],[2010.09,49.91],[2010.16,49.91],
  [2010.22,49.91],[2010.28,49.89],[2010.34,49.91],[2010.11,49.85],[2010.16,49.85],[2010.22,49.83],[2010.28,49.85],[2010.34,49.85],[2010.38,49.87],[2010.11,49.8],
  [2010.16,49.78],[2010.22,49.8],[2010.28,49.82],[2010.13,49.75],[2010.18,49.75],[2010.24,49.75],[2010.3,49.76],[2010.24,49.68],[2010.36,49.76],[2010.38,49.73],
  [2010.38,49.68],[2010.38,49.64],[2010.37,49.6],[2010.4,49.82],[2010.42,50.07],[2010.45,50.05],[2010.44,50.01],[2010.42,49.98],[2010.44,49.92],[2010.47,49.91],
  [2010.51,49.98],[2010.55,49.99],[2010.49,50.03],[2010.53,50.08],[2010.61,50.17],[2010.69,50.15],[2010.61,50.12],[2010.69,50.1],[2010.61,50.08],[2010.67,50.05],
  [2010.71,50.07],[2010.57,50.03],[2010.63,50.03],[2010.69,50.01],[2010.74,50.01],[2010.55,49.96],[2010.61,49.94],[2010.67,49.96],[2010.73,49.98],[2010.49,49.85],
  [2010.55,49.87],[2010.61,49.87],[2010.67,49.91],[2010.74,49.92],[2010.8,49.94],[2010.47,49.76],[2010.53,49.78],[2010.49,49.71],[2010.55,49.73],[2010.59,49.76],
  [2010.65,49.82],[2010.71,49.87],[2010.76,49.89],[2010.82,49.89],[2010.73,49.83],[2010.78,49.83],[2010.84,49.85],[2010.74,49.78],[2010.8,49.8],[2010.86,49.76],
  [2010.78,49.75],[2010.84,49.75],[2010.81,49.94],
  [2010.12,49.88],[2010.14,49.93],[2010.18,49.88],[2010.2,49.82],[2010.24,49.86],[2010.26,49.92],[2010.3,49.88],[2010.33,49.82],[2010.19,49.97],[2010.25,50.0],
  [2010.46,49.95],[2010.5,49.9],[2010.52,49.83],[2010.57,49.92],[2010.59,50.0],[2010.63,49.98],[2010.65,50.08],[2010.66,49.86],[2010.7,49.94],[2010.72,50.03],
  [2010.75,49.96],[2010.77,49.86],[2010.79,49.9],[2010.82,49.8],[2010.85,49.8],[2010.87,49.78],[2010.83,49.72],[2010.76,49.78],[2010.68,49.8],[2010.6,49.8]
];

// smooth trend curve
const trendLine = [
  [2001.0,48.68],[2001.1,48.56],[2001.2,48.47],[2001.3,48.42],[2001.4,48.40],[2001.5,48.40],[2001.6,48.41],[2001.7,48.44],
  [2001.8,48.49],[2001.9,48.53],[2002.0,48.58],[2002.1,48.66],[2002.2,48.74],[2002.3,48.83],[2002.4,48.91],[2002.5,48.99],
  [2002.6,49.07],[2002.7,49.15],[2002.8,49.23],[2002.9,49.30],[2003.0,49.37],[2003.2,49.51],[2003.4,49.64],[2003.6,49.74],
  [2003.8,49.82],[2004.0,49.89],[2004.25,49.93],[2004.5,49.945],[2004.75,49.94],[2005.0,49.91],[2005.3,49.85],[2005.6,49.76],
  [2005.8,49.70],[2006.0,49.66],[2006.35,49.56],[2006.6,49.49],[2007.0,49.43],[2007.25,49.40],[2007.6,49.37],[2008.0,49.36],
  [2008.3,49.38],[2008.5,49.40],[2009.0,49.45],[2009.35,49.51],[2009.7,49.59],[2010.0,49.66],[2010.3,49.77],[2010.57,49.89],
  [2010.85,50.05]
];

const allPoints = [].concat(freq2001, freq2002, freq2003, freq2004, freq2005,
  freq2006, freq2007, freq2008, freq2009, freq2010);

const FONT = "'Liberation Sans', Arial, sans-serif";
const chart = echarts.init(document.getElementById('chart'), null, { renderer: 'canvas' });

chart.setOption({
  animation: false,
  backgroundColor: '#fff',
  grid: {
    left: 152, right: 6, top: 26, bottom: 119,
    show: true, borderColor: '#000', borderWidth: 1
  },
  xAxis: {
    type: 'value',
    min: 2001, max: 2010.91, interval: 1,
    axisLine: { show: true, onZero: false, lineStyle: { color: '#222', width: 2 } },
    axisTick: { show: true, length: 12, lineStyle: { color: '#000', width: 1 } },
    axisLabel: {
      rotate: 90, margin: 33, showMaxLabel: false,
      fontFamily: FONT, fontSize: 35, fontWeight: 'bold', color: '#000',
      formatter: (v) => String(Math.round(v))
    },
    splitLine: { show: true, lineStyle: { color: '#000', width: 1, type: [5, 3] } }
  },
  yAxis: {
    type: 'value',
    min: 47.5, max: 51.0, interval: 0.5,
    axisLine: { show: true, onZero: false, lineStyle: { color: '#000', width: 3 } },
    axisTick: { show: true, length: 12, lineStyle: { color: '#000', width: 1 } },
    axisLabel: {
      margin: 33, showMinLabel: true, showMaxLabel: true,
      fontFamily: FONT, fontSize: 35, fontWeight: 'bold', color: '#000',
      formatter: (v) => v.toFixed(1)
    },
    splitLine: { show: true, lineStyle: { color: '#000', width: 1, type: [5, 3] } }
  },
  graphic: [{
    type: 'text',
    x: 26, y: 405,
    rotation: Math.PI / 2,
    style: {
      text: 'FREQUENCY IN HZ -->',
      x: 0, y: 0,
      align: 'center', verticalAlign: 'middle',
      font: "31px 'Liberation Sans', Arial, sans-serif",
      fill: '#000'
    }
  }],
  series: [
    {
      type: 'scatter',
      data: allPoints,
      symbol: 'diamond',
      symbolSize: 10,
      itemStyle: { color: '#12127e' },
      z: 2
    },
    {
      type: 'line',
      data: trendLine,
      smooth: 0.4,
      showSymbol: false,
      lineStyle: { color: '#000', width: 3 },
      z: 3
    }
  ]
});
</script>
</body>
</html>
